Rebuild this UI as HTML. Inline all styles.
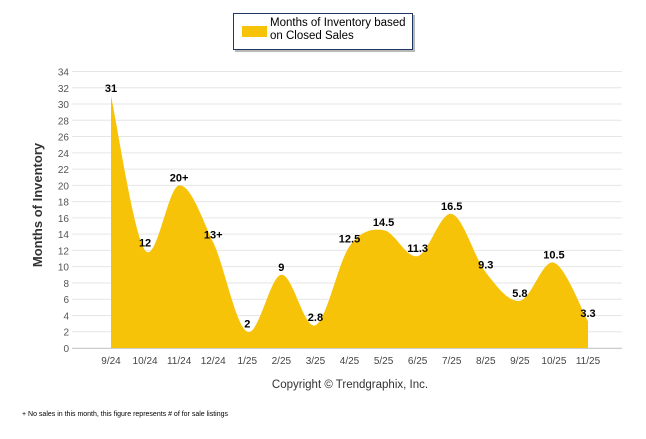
<!DOCTYPE html>
<html><head><meta charset="utf-8"><style>
body{margin:0;background:#fff;font-family:"Liberation Sans",Arial,sans-serif;}
svg text{font-family:"Liberation Sans",Arial,sans-serif;}
</style></head><body>
<svg id="c" width="646" height="434">
<rect x="235" y="15" width="180" height="37" fill="#333" opacity="0.35"/>
<rect x="233.5" y="13.5" width="179" height="36" fill="#fff" stroke="#1f3864"/>
<rect x="242" y="26" width="25" height="11" fill="#f7c308"/>
<text x="270" y="26" font-size="11.5" fill="#000">Months of Inventory based</text>
<text x="270" y="39" font-size="11.5" fill="#000">on Closed Sales</text>
<g id="grid"></g>
<g id="plot"></g>
<text transform="translate(42,205) rotate(-90)" text-anchor="middle" font-size="13" font-weight="bold" fill="#333">Months of Inventory</text>
<text x="350" y="388" text-anchor="middle" font-size="11.5" fill="#333">Copyright © Trendgraphix, Inc.</text>
<text x="22" y="416" font-size="7" fill="#000">+  No sales in this month, this figure represents # of for sale listings</text>
</svg>
<script>
const categories=["9/24","10/24","11/24","12/24","1/25","2/25","3/25","4/25","5/25","6/25","7/25","8/25","9/25","10/25","11/25"];
const values=[31,12,20,13,2,9,2.8,12.5,14.5,11.3,16.5,9.3,5.8,10.5,3.3];
const valueLabels=["31","12","20+","13+","2","9","2.8","12.5","14.5","11.3","16.5","9.3","5.8","10.5","3.3"];
const yTicks=[0,2,4,6,8,10,12,14,16,18,20,22,24,26,28,30,32,34];
const NS="http://www.w3.org/2000/svg";
const y0=348,y1=71.5,yMax=34;
const yS=v=>y0-(v/yMax)*(y0-y1);
const xS=i=>111+i*((588-111)/(categories.length-1));
function mk(t,a,p){const e=document.createElementNS(NS,t);for(const k in a)e.setAttribute(k,a[k]);p.appendChild(e);return e;}
const g=document.getElementById('grid'),p=document.getElementById('plot');
yTicks.forEach(v=>{
 const l=mk('line',{x1:72,x2:622,y1:yS(v),y2:yS(v),stroke:'#e6e6e6','stroke-width':1},g);
 
 
 const t=mk('text',{x:69,y:yS(v)+4,'text-anchor':'end','font-size':10,fill:'#555'},g);t.textContent=v;
 
 
});
mk('line',{x1:72,x2:622,y1:y0+0.5,y2:y0+0.5,stroke:'#ccc'},g);
categories.forEach((c,i)=>{
 const t=mk('text',{x:xS(i),y:364,'text-anchor':'middle','font-size':10,fill:'#444'},g);t.textContent=c;
 
 
});
const pts=values.map((v,i)=>[xS(i),yS(v)]);
let d=`M${pts[0][0]},${pts[0][1]}`;
for(let i=0;i<pts.length-1;i++){
 const p0=pts[Math.max(0,i-1)],p1=pts[i],p2=pts[i+1],p3=pts[Math.min(pts.length-1,i+2)];
 const k=1/6;
 d+=` C${p1[0]+(p2[0]-p0[0])*k},${p1[1]+(p2[1]-p0[1])*k} ${p2[0]-(p3[0]-p1[0])*k},${p2[1]-(p3[1]-p1[1])*k} ${p2[0]},${p2[1]}`;
}
const area=mk('path',{d:d+` L${pts[pts.length-1][0]},${y0} L${pts[0][0]},${y0} Z`,fill:'#f7c308'},p);


values.forEach((v,i)=>{
 const t=mk('text',{x:xS(i),y:yS(v)-4,'text-anchor':'middle','font-size':11,'font-weight':'bold',fill:'#000'},p);
 t.textContent=valueLabels[i];
 
 
});
</script>
</body></html>
